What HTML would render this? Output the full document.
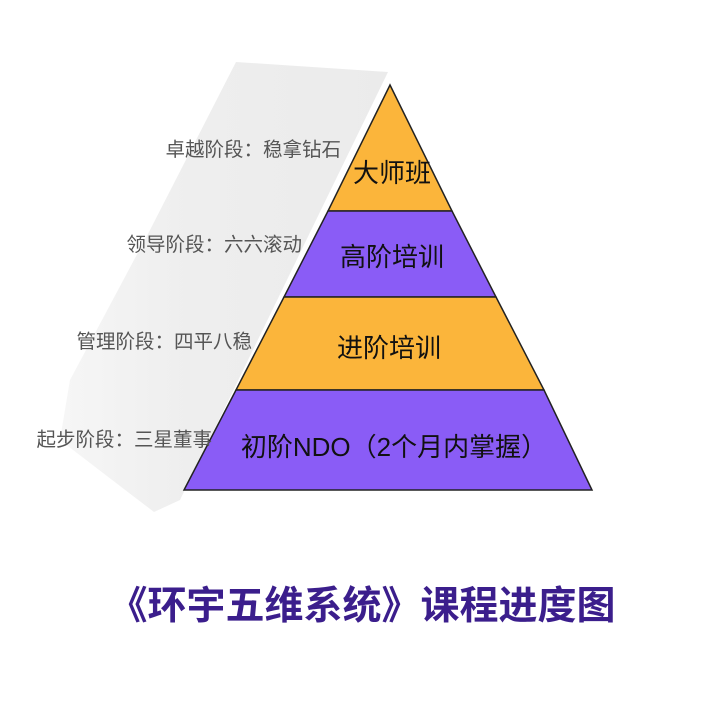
<!DOCTYPE html>
<html><head><meta charset="utf-8"><style>
body{margin:0;background:#fff;}
svg text{font-family:"Liberation Sans","Noto Sans CJK SC",sans-serif;}
</style></head><body>
<svg width="703" height="704" viewBox="0 0 703 704" xmlns="http://www.w3.org/2000/svg">
<defs><linearGradient id="g" x1="0" y1="0" x2="1" y2="0">
<stop offset="0" stop-color="#f6f6f6"/><stop offset="0.4" stop-color="#eeeeee"/><stop offset="1" stop-color="#ebebeb"/></linearGradient></defs>
<rect width="703" height="704" fill="#fff"/>
<polygon points="236,62 388,72 180,500 154,512 60,440 70,380 150,230" fill="url(#g)"/>
<polygon points="390,85 328,211 452,211" fill="#fbb53b" stroke="#222" stroke-width="1.5"/>
<polygon points="328,211 452,211 496,297 284,297" fill="#8a5cf6" stroke="#222" stroke-width="1.5"/>
<polygon points="284,297 496,297 544,390 236,390" fill="#fbb53b" stroke="#222" stroke-width="1.5"/>
<polygon points="236,390 544,390 592,490 184,490" fill="#8a5cf6" stroke="#222" stroke-width="1.5"/>
<g font-size="26" fill="#111" text-anchor="middle">
<text x="392" y="182">大师班</text>
<text x="392" y="266">高阶培训</text>
<text x="389" y="357">进阶培训</text>
<text x="394" y="456">初阶NDO（2个月内掌握）</text>
</g>
<g font-size="19.5" fill="#555" text-anchor="end">
<text x="341" y="156">卓越阶段：稳拿钻石</text>
<text x="302" y="251">领导阶段：六六滚动</text>
<text x="252" y="348">管理阶段：四平八稳</text>
<text x="212" y="446">起步阶段：三星董事</text>
</g>
<text x="362" y="619" font-size="39" font-weight="bold" fill="#3b1e8c" text-anchor="middle">《环宇五维系统》课程进度图</text>
</svg>
</body></html>
